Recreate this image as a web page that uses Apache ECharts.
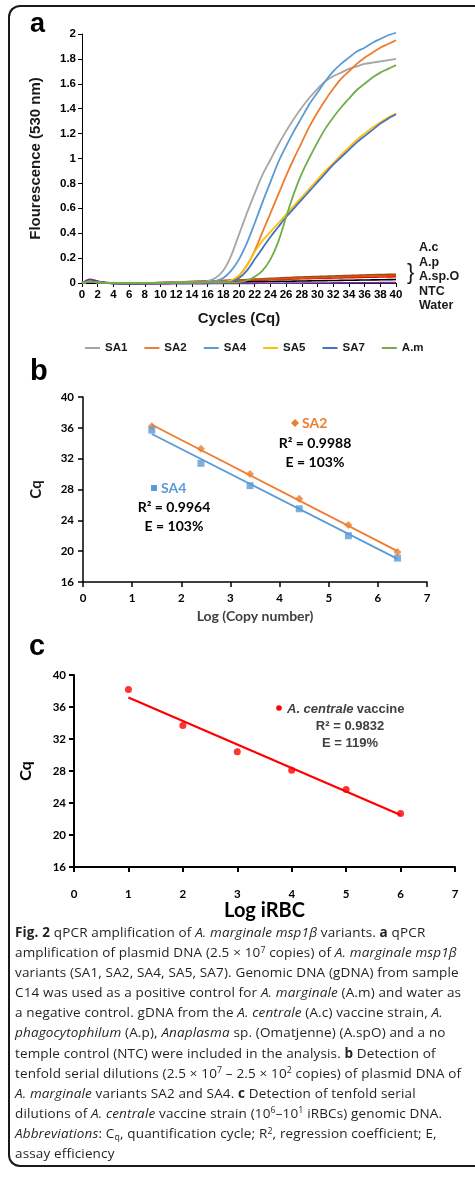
<!DOCTYPE html>
<html>
<head>
<meta charset="utf-8">
<script src="https://cdn.jsdelivr.net/npm/echarts@6/dist/echarts.min.js"></script>
<style>
html,body{margin:0;padding:0;background:#fff;}
body{width:475px;height:1178px;position:relative;overflow:hidden;}
#frame{position:absolute;left:8px;top:5px;width:490px;height:1162px;border-left:2px solid #1a1a1a;border-top:2px solid #1a1a1a;border-bottom:2px solid #1a1a1a;border-radius:12px 0 0 12px;box-sizing:border-box;}
#chart{position:absolute;left:0;top:0;width:475px;height:940px;}
#caption{position:absolute;left:15px;top:922px;font-family:"Open Sans","Noto Sans",sans-serif;font-size:13.5px;letter-spacing:0.15px;line-height:20.1px;color:#231f20;white-space:nowrap;}
#caption sup{font-size:65%;line-height:0;position:relative;top:-0.5em;vertical-align:baseline;}
#caption sub{font-size:65%;line-height:0;position:relative;top:0.25em;vertical-align:baseline;}
</style>
</head>
<body>
<div id="frame"></div>
<div id="chart"></div>
<div id="caption">
<b>Fig. 2</b> qPCR amplification of <i>A. marginale msp1β</i> variants. <b>a</b> qPCR<br>
amplification of plasmid DNA (2.5 × 10<sup>7</sup> copies) of <i>A. marginale msp1β</i><br>
variants (SA1, SA2, SA4, SA5, SA7). Genomic DNA (gDNA) from sample<br>
C14 was used as a positive control for <i>A. marginale</i> (A.m) and water as<br>
a negative control. gDNA from the <i>A. centrale</i> (A.c) vaccine strain, <i>A.</i><br>
<i>phagocytophilum</i> (A.p), <i>Anaplasma</i> sp. (Omatjenne) (A.spO) and a no<br>
temple control (NTC) were included in the analysis. <b>b</b> Detection of<br>
tenfold serial dilutions (2.5 × 10<sup>7</sup> – 2.5 × 10<sup>2</sup> copies) of plasmid DNA of<br>
<i>A. marginale</i> variants SA2 and SA4. <b>c</b> Detection of tenfold serial<br>
dilutions of <i>A. centrale</i> vaccine strain (10<sup>6</sup>–10<sup>1</sup> iRBCs) genomic DNA.<br>
<i>Abbreviations</i>: C<sub>q</sub>, quantification cycle; R<sup>2</sup>, regression coefficient; E,<br>
assay efficiency
</div>
<script>
// ---------- Panel a: amplification curves ----------
const cycles = [0,1,2,3,4,5,6,7,8,9,10,11,12,13,14,15,16,17,18,19,20,21,22,23,24,25,26,27,28,29,30,31,32,33,34,35,36,37,38,39,40];
const sa1 = [0,0.01,0.005,0,0,0,0,0,0,0,0.002,0.003,0.004,0.005,0.006,0.008,0.015,0.04,0.10,0.22,0.39,0.56,0.72,0.87,0.99,1.11,1.22,1.32,1.41,1.49,1.56,1.62,1.66,1.69,1.72,1.74,1.76,1.77,1.78,1.79,1.80];
const sa2 = [0,0.01,0.005,0,0,0,0,0,0,0,0.001,0.002,0.003,0.004,0.005,0.006,0.007,0.008,0.01,0.02,0.06,0.14,0.26,0.41,0.56,0.71,0.86,1.00,1.13,1.26,1.37,1.47,1.56,1.64,1.70,1.76,1.81,1.85,1.89,1.92,1.95];
const sa4 = [0,0.01,0.005,0,0,0,0,0,0,0,0.001,0.002,0.003,0.004,0.005,0.006,0.008,0.015,0.04,0.10,0.19,0.32,0.48,0.65,0.81,0.97,1.10,1.22,1.33,1.44,1.53,1.62,1.70,1.76,1.81,1.86,1.89,1.93,1.96,1.99,2.01];
const sa5 = [0,0.01,0.005,0,0,0,0,0,0,0,0,0.001,0.002,0.003,0.004,0.005,0.005,0.005,0.006,0.02,0.06,0.14,0.25,0.34,0.41,0.48,0.55,0.62,0.69,0.76,0.83,0.90,0.96,1.03,1.09,1.15,1.20,1.25,1.29,1.33,1.36];
const sa7 = [0,0.01,0.005,0,-0.002,-0.003,-0.003,-0.003,-0.002,-0.002,-0.001,0,0.001,0.002,0.003,0.004,0.004,0.005,0.005,0.01,0.04,0.10,0.19,0.28,0.37,0.45,0.53,0.60,0.67,0.74,0.81,0.88,0.95,1.01,1.07,1.13,1.18,1.23,1.28,1.32,1.355];
const am = [0,0.01,0.005,0,0,0,0,0,0,0,0,0.001,0.002,0.003,0.004,0.004,0.005,0.005,0.005,0.005,0.007,0.02,0.05,0.10,0.19,0.33,0.53,0.72,0.88,1.01,1.13,1.24,1.33,1.41,1.48,1.55,1.60,1.65,1.69,1.72,1.75];
const ac = [0,0.02,0.01,0.004,0,0,0,0,0.001,0.002,0.004,0.006,0.008,0.01,0.012,0.014,0.016,0.018,0.02,0.022,0.025,0.028,0.031,0.034,0.037,0.04,0.043,0.046,0.048,0.05,0.052,0.054,0.056,0.058,0.06,0.062,0.064,0.066,0.068,0.069,0.07];
const ap = [0,0.015,0.008,0.003,0,0,0,0,0,0.001,0.002,0.003,0.004,0.005,0.006,0.008,0.01,0.012,0.014,0.016,0.018,0.02,0.022,0.024,0.026,0.028,0.03,0.032,0.034,0.035,0.037,0.038,0.04,0.041,0.043,0.044,0.046,0.047,0.048,0.049,0.05];
const aspo = [0,0.02,0.01,0.003,0,0,0,0,0,0.001,0.003,0.005,0.007,0.009,0.011,0.013,0.015,0.017,0.019,0.021,0.023,0.025,0.027,0.029,0.031,0.033,0.035,0.037,0.039,0.041,0.043,0.045,0.047,0.049,0.051,0.053,0.055,0.056,0.057,0.058,0.06];
const ntc = [0,0.01,0.005,0,-0.003,-0.004,-0.005,-0.005,-0.004,-0.003,-0.002,-0.001,0,0.001,0.002,0.003,0.004,0.005,0.006,0.007,0.008,0.009,0.01,0.011,0.012,0.013,0.014,0.015,0.016,0.017,0.018,0.019,0.02,0.021,0.022,0.023,0.024,0.025,0.026,0.027,0.028];
const water = [0,0.03,0.015,0.002,-0.005,-0.007,-0.008,-0.008,-0.008,-0.008,-0.007,-0.007,-0.006,-0.006,-0.005,-0.005,-0.005,-0.004,-0.004,-0.004,-0.003,-0.003,-0.003,-0.002,-0.002,-0.002,-0.001,-0.001,-0.001,0,0,0,0.001,0.001,0.001,0.002,0.002,0.002,0.003,0.003,0.003];
const mainNames = ['SA1','SA2','SA4','SA5','SA7','A.m'];
const lowNames = ['A.c','A.p','A.sp.O','NTC','Water'];

// ---------- Panel b: standard curves (plasmid) ----------
const logCopy = [1.4,2.4,3.4,4.4,5.4,6.4];
const sa2Cq = [36.2,33.3,30.0,26.8,23.4,19.9];
const sa4Cq = [35.7,31.4,28.5,25.5,22.0,19.1];
const trendXb = [1.4,6.4];
const sa2Trend = [36.4,20.0];
const sa4Trend = [35.2,19.0];

// ---------- Panel c: standard curve (A. centrale) ----------
const logIRBC = [1,2,3,4,5,6];
const centraleCq = [38.2,33.7,30.4,28.1,25.7,22.7];
const trendXc = [1,6];
const centraleTrend = [37.2,22.5];

const zip = (xs, ys) => xs.map((x, i) => [x, ys[i]]);

const chart = echarts.init(document.getElementById('chart'), null, {renderer:'canvas'});

const ARIAL = '"Liberation Sans", Arial, sans-serif';
const CAL = 'Lato, "Liberation Sans", sans-serif';

function axisCommon(font, size, color, lineW, tickLen, margin){
  return {
    axisLine:{show:true,onZero:false,lineStyle:{color:'#000',width:lineW}},
    axisTick:{show:true,inside:false,length:tickLen,lineStyle:{color:'#000',width:lineW}},
    axisLabel:{color:color,fontWeight:'bold',fontSize:size,fontFamily:font,margin:margin},
    splitLine:{show:false}
  };
}

const mainColors = ['#A5A5A5','#ED7D31','#5B9BD5','#FFC000','#4472C4','#70AD47'];
const mainData = [sa1,sa2,sa4,sa5,sa7,am];
const lowColors = ['#9E480E','#FF0000','#C55A11','#000000','#7030A0'];
const lowData = [ac,ap,aspo,ntc,water];

const series = [];
lowData.forEach((d,i)=>{
  series.push({name:lowNames[i],type:'line',xAxisIndex:0,yAxisIndex:0,data:zip(cycles,d),showSymbol:false,symbol:'none',clip:false,
    smooth:0.3,lineStyle:{color:lowColors[i],width:1.6},itemStyle:{color:lowColors[i]},z:2});
});
mainData.forEach((d,i)=>{
  series.push({name:mainNames[i],type:'line',xAxisIndex:0,yAxisIndex:0,data:zip(cycles,d),showSymbol:false,symbol:'none',clip:false,
    smooth:0.3,lineStyle:{color:mainColors[i],width:1.8},itemStyle:{color:mainColors[i]},z:3});
});
// panel b
series.push({name:'SA2 trend',type:'line',xAxisIndex:1,yAxisIndex:1,data:zip(trendXb,sa2Trend),symbol:'none',lineStyle:{color:'#ED7D31',width:1.8},z:3});
series.push({name:'SA4 trend',type:'line',xAxisIndex:1,yAxisIndex:1,data:zip(trendXb,sa4Trend),symbol:'none',lineStyle:{color:'#5B9BD5',width:1.8},z:3});
series.push({name:'SA2 pts',type:'scatter',xAxisIndex:1,yAxisIndex:1,data:zip(logCopy,sa2Cq),symbol:'diamond',symbolSize:8,itemStyle:{color:'#ED7D31'},z:4});
series.push({name:'SA4 pts',type:'scatter',xAxisIndex:1,yAxisIndex:1,data:zip(logCopy,sa4Cq),symbol:'rect',symbolSize:7,itemStyle:{color:'#5B9BD5'},z:4});
// panel c
series.push({name:'A. centrale trend',type:'line',xAxisIndex:2,yAxisIndex:2,data:zip(trendXc,centraleTrend),symbol:'none',lineStyle:{color:'#FF0000',width:2.2},z:3});
series.push({name:'A. centrale vaccine',type:'scatter',xAxisIndex:2,yAxisIndex:2,data:zip(logIRBC,centraleCq),symbol:'circle',symbolSize:7,itemStyle:{color:'#FF0000'},z:4});

const xA = Object.assign(axisCommon(ARIAL,11.5,'#000',1,4,6),{gridIndex:0,type:'value',min:0,max:40,interval:2,
  name:'Cycles (Cq)',nameLocation:'middle',nameGap:28,nameTextStyle:{fontWeight:'bold',fontSize:15,color:'#1a1a1a',fontFamily:ARIAL}});
const yA = Object.assign(axisCommon(ARIAL,11.5,'#000',1,4,6),{gridIndex:0,type:'value',min:0,max:2,interval:0.2,
  name:'Flourescence (530 nm)',nameLocation:'middle',nameGap:39,nameTextStyle:{fontWeight:'bold',fontSize:15,color:'#1a1a1a',fontFamily:ARIAL}});
const xB = Object.assign(axisCommon(CAL,11.5,'#000',1.5,5,10),{gridIndex:1,type:'value',min:0,max:7,interval:1,
  name:'Log (Copy number)',nameLocation:'middle',nameGap:27,nameTextStyle:{fontWeight:'bold',fontSize:14,color:'#404040',fontFamily:CAL}});
const yB = Object.assign(axisCommon(CAL,11.5,'#000',1.5,5,9),{gridIndex:1,type:'value',min:16,max:40,interval:4,
  name:'Cq',nameLocation:'middle',nameGap:39,nameTextStyle:{fontWeight:'bold',fontSize:15,color:'#1a1a1a',fontFamily:CAL}});
const xC = Object.assign(axisCommon(CAL,11.5,'#000',2,5,21),{gridIndex:2,type:'value',min:0,max:7,interval:1,
  name:'Log iRBC',nameLocation:'middle',nameGap:34,nameTextStyle:{fontWeight:'bold',fontSize:20,color:'#000',fontFamily:CAL}});
const yC = Object.assign(axisCommon(CAL,11.5,'#000',2,5,8),{gridIndex:2,type:'value',min:16,max:40,interval:4,
  name:'Cq',nameLocation:'middle',nameGap:40,nameTextStyle:{fontWeight:'bold',fontSize:16,color:'#000',fontFamily:CAL}});

function txt(x,y,text,opts){
  return {type:'text',x:x,y:y,silent:true,style:Object.assign({text:text,align:'left',verticalAlign:'middle'},opts)};
}
const graphics = [
  txt(30,25,'a',{font:'bold 27px "Liberation Sans"',fill:'#000'}),
  txt(30,372,'b',{font:'bold 29px "Liberation Sans"',fill:'#000'}),
  txt(29,647,'c',{font:'bold 29px "Liberation Sans"',fill:'#000'}),
  txt(419,248,'A.c',{font:'bold 12.5px "Liberation Sans"',fill:'#1a1a1a'}),
  txt(419,263,'A.p',{font:'bold 12.5px "Liberation Sans"',fill:'#1a1a1a'}),
  txt(419,277,'A.sp.O',{font:'bold 12.5px "Liberation Sans"',fill:'#1a1a1a'}),
  txt(419,292,'NTC',{font:'bold 12.5px "Liberation Sans"',fill:'#1a1a1a'}),
  txt(419,306,'Water',{font:'bold 12.5px "Liberation Sans"',fill:'#1a1a1a'}),
  txt(407,273,'}',{font:'22px "Liberation Sans"',fill:'#1a1a1a'}),
  // panel b annotations
  {type:'polygon',silent:true,shape:{points:[[295,419],[299,423],[295,427],[291,423]]},style:{fill:'#ED7D31'}},
  txt(302,423,'SA2',{font:'bold 14px Lato',fill:'#ED7D31'}),
  txt(315,443,'R² = 0.9988',{font:'bold 14px Lato',fill:'#000',align:'center'}),
  txt(315,462,'E = 103%',{font:'bold 14px Lato',fill:'#000',align:'center'}),
  {type:'rect',silent:true,shape:{x:151,y:485,width:6,height:6},style:{fill:'#5B9BD5'}},
  txt(161,488,'SA4',{font:'bold 14px Lato',fill:'#5B9BD5'}),
  txt(174,507,'R² = 0.9964',{font:'bold 14px Lato',fill:'#000',align:'center'}),
  txt(174,526,'E = 103%',{font:'bold 14px Lato',fill:'#000',align:'center'}),
  // panel c annotations
  {type:'circle',silent:true,shape:{cx:279,cy:708,r:2.8},style:{fill:'#FF0000'}},
  {type:'text',x:287,y:709,silent:true,style:{text:'{i|A. centrale} {n|vaccine}',verticalAlign:'middle',align:'left',
     rich:{i:{font:'italic bold 13px "Liberation Sans"',fill:'#404040'},n:{font:'bold 13px "Liberation Sans"',fill:'#404040'}}}},
  txt(350,726,'R² = 0.9832',{font:'bold 13px "Liberation Sans"',fill:'#404040',align:'center'}),
  txt(350,743,'E = 119%',{font:'bold 13px "Liberation Sans"',fill:'#404040',align:'center'})
];

chart.setOption({
  animation:false,
  backgroundColor:'transparent',
  textStyle:{fontFamily:ARIAL},
  grid:[
    {left:82,top:34,width:314,height:249,outerBoundsMode:'none',containLabel:false},
    {left:83,top:397,width:344,height:185,outerBoundsMode:'none',containLabel:false},
    {left:74,top:675,width:381,height:192,outerBoundsMode:'none',containLabel:false}
  ],
  xAxis:[xA,xB,xC],
  yAxis:[yA,yB,yC],
  legend:{data:mainNames,left:80,top:337,icon:'rect',itemWidth:15,itemHeight:2,itemGap:17,
    textStyle:{fontWeight:'bold',fontSize:11.5,fontFamily:ARIAL,color:'#1a1a1a'},selectedMode:false},
  series:series,
  graphic:graphics
});
</script>
</body>
</html>
